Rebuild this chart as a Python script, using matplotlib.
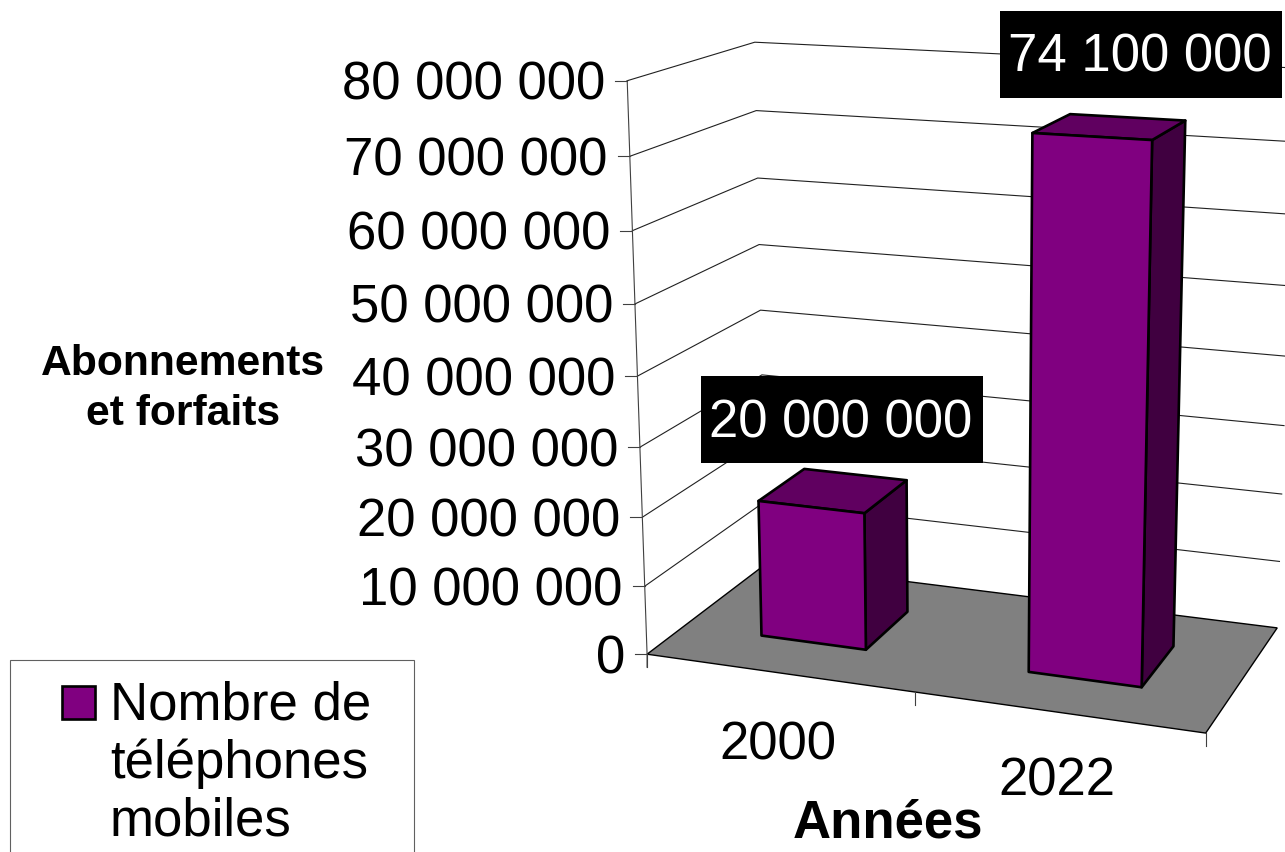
import numpy as np
import matplotlib
matplotlib.use('Agg')
import matplotlib.pyplot as plt
from matplotlib.patches import Polygon, Rectangle

plt.rcParams['font.family'] = ['Liberation Sans', 'DejaVu Sans']

years = ['2000', '2022']
phones = [20000000, 74100000]
ticks = [0, 10000000, 20000000, 30000000, 40000000, 50000000, 60000000, 70000000, 80000000]
series_name = 'Nombre de\ntéléphones\nmobiles'
y_title = 'Abonnements\net forfaits'
x_title = 'Années'

YMAX = 80000000
PURPLE = '#800080'
TOP = '#600060'
SIDE = '#400040'
GAP = 0.2     # bar width as a share of the floor
DEPTH = (0.30, 0.70)


def fit_camera():
    # pixel positions of the box corners, the rest follows by projection
    world = [(0, 0, 0), (0, 1, 0), (1, 0, 0), (0, 0, 1), (0, 1, 1), (1, 0, 1), (1, 1, 1)]
    pix = [(647, 654), (627, 81), (1206, 733), (766, 564), (755, 42), (1277, 628), (1296, 68)]
    rows = []
    for (X, Y, Z), (u, v) in zip(world, pix):
        rows.append([X, Y, Z, 1, 0, 0, 0, 0, -u*X, -u*Y, -u*Z, -u])
        rows.append([0, 0, 0, 0, X, Y, Z, 1, -v*X, -v*Y, -v*Z, -v])
    return np.linalg.svd(np.array(rows, dtype=float))[2][-1].reshape(3, 4)


cam = fit_camera()


def proj(x, value, z):
    p = cam @ np.array([x, value / YMAX, z, 1.0])
    return p[0] / p[2], p[1] / p[2]


fig = plt.figure(figsize=(12.85, 8.52), dpi=100)
ax = fig.add_axes([0, 0, 1, 1])
ax.set_xlim(0, 1285)
ax.set_ylim(852, 0)
ax.axis('off')

# floor
ax.add_patch(Polygon([proj(0, 0, 0), proj(1, 0, 0), proj(1, 0, 1), proj(0, 0, 1)],
                     fc='#808080', ec='black', lw=1.0, zorder=1))

# gridlines on side and back walls, ticks on the front edge
for t in ticks:
    a, b, c = proj(0, t, 0), proj(0, t, 1), proj(1, t, 1)
    if t > 0:
        ax.plot([a[0], b[0], c[0]], [a[1], b[1], c[1]], color='#202020', lw=0.8, zorder=0.5)
    ax.plot([a[0] - 12, a[0]], [a[1], a[1]], color='#404040', lw=0.8, zorder=2)
    ax.text(a[0] - 22, a[1] + 5, f'{t:,}'.replace(',', ' '), ha='right', va='center', fontsize=38, zorder=3)

top_front = proj(0, YMAX, 0)
base_front = proj(0, 0, 0)
ax.plot([top_front[0], base_front[0], base_front[0]],
        [top_front[1], base_front[1], base_front[1] + 13], color='#404040', lw=0.8, zorder=2)
for i in range(len(years) + 1):
    p = proj(i / len(years), 0, 0)
    ax.plot([p[0], p[0]], [p[1], p[1] + 13], color='#404040', lw=0.8, zorder=2)

# bars
for i, v in enumerate(phones):
    c = (i + 0.5) / len(years)
    x0, x1 = c - GAP / 2, c + GAP / 2
    z0, z1 = DEPTH
    ax.add_patch(Polygon([proj(x1, 0, z0), proj(x1, 0, z1), proj(x1, v, z1), proj(x1, v, z0)],
                         fc=SIDE, ec='black', lw=1.9, joinstyle='round', zorder=4))
    ax.add_patch(Polygon([proj(x0, v, z0), proj(x1, v, z0), proj(x1, v, z1), proj(x0, v, z1)],
                         fc=TOP, ec='black', lw=1.9, joinstyle='round', zorder=4))
    ax.add_patch(Polygon([proj(x0, 0, z0), proj(x1, 0, z0), proj(x1, v, z0), proj(x0, v, z0)],
                         fc=PURPLE, ec='black', lw=1.9, joinstyle='round', zorder=5))

# value labels in black boxes
for v, bx, by in zip(phones, [701, 1000], [376, 11]):
    ax.add_patch(Rectangle((bx, by), 282, 86.5, fc='black', ec='none', zorder=6))
    ax.text(bx + 140, by + 61, f'{v:,}'.replace(',', ' '), color='white', ha='center', va='baseline',
            fontsize=38, zorder=7)

# category labels
ax.text(778, 746, years[0], ha='center', va='center', fontsize=38)
ax.text(1057, 782, years[1], ha='center', va='center', fontsize=38)

# axis titles
ax.text(183, 389, y_title, ha='center', va='center', fontsize=30.7, fontweight='bold', linespacing=1.3)
ax.text(888, 824, x_title, ha='center', va='center', fontsize=38, fontweight='bold')

# legend, cut off by the bottom of the picture
ax.add_patch(Rectangle((9.5, 659.5), 404.5, 220, fc='white', ec='#606060', lw=0.8, zorder=2))
ax.add_patch(Rectangle((62, 686), 33, 33, fc=PURPLE, ec='black', lw=1.9, zorder=3))
for line, y in zip(series_name.split('\n'), [720, 778, 836]):
    ax.text(110, y, line, ha='left', va='baseline', fontsize=38, zorder=3)

fig.savefig('out.png', dpi=100)
